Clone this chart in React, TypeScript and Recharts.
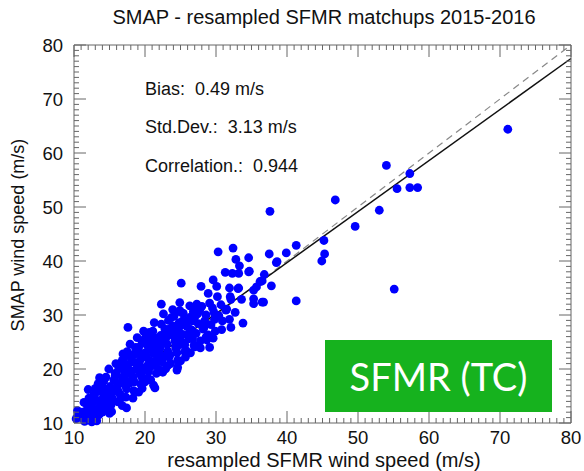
import { ReferenceLine, Scatter, ScatterChart, XAxis, YAxis } from "recharts";

// SFMR (x) vs SMAP (y) wind speed, m/s
const sparsePoints: [number, number][] = [
  [71.1, 64.4], [54.0, 57.7], [57.3, 56.2], [55.5, 53.4], [57.3, 53.6], [58.4, 53.6],
  [46.8, 51.3], [53.0, 49.4], [49.6, 46.4], [45.2, 43.8], [45.3, 41.3], [44.9, 40.0],
  [55.1, 34.8], [37.6, 49.2], [41.3, 42.9], [37.5, 41.3], [39.9, 41.5], [38.6, 39.9],
  [36.8, 37.5], [36.5, 36.3], [37.8, 35.4], [36.7, 32.4], [41.3, 32.6],
];

const midPoints: [number, number][] = [
  [32.4, 42.4], [30.3, 41.7], [34.6, 40.6], [32.8, 40.3], [33.3, 39.1], [31.3, 37.9],
  [32.3, 37.7], [33.2, 37.7], [34.7, 38.1], [29.6, 36.5], [25.1, 35.9], [27.9, 35.3],
  [28.9, 34.0], [30.1, 35.3], [31.9, 35.0], [33.2, 35.0], [35.7, 35.2], [22.3, 32.0],
  [24.9, 32.3], [27.3, 32.0], [29.1, 32.2], [29.5, 31.3], [32.1, 32.9], [33.6, 32.9],
  [35.3, 33.0], [36.5, 32.4], [35.3, 32.1], [24.9, 30.8], [26.3, 31.7], [27.7, 30.8],
  [31.5, 31.1], [32.7, 30.5], [23.7, 29.5], [25.3, 28.9], [26.7, 28.9], [28.4, 28.9],
  [29.8, 29.2], [30.9, 28.9], [31.9, 29.2], [33.8, 28.5], [32.1, 27.7], [22.8, 27.4],
  [24.4, 27.4], [26.3, 27.4], [28.2, 27.4], [22.9, 25.6], [24.8, 25.9], [26.7, 25.6],
  [28.6, 25.9], [29.1, 24.0], [17.6, 27.7], [25.1, 30.5], [27.4, 30.2], [20.6, 26.8],
  [22.2, 26.2], [23.4, 27.4], [24.8, 28.6], [19.6, 24.9], [21.0, 25.2], [18.7, 24.0],
  [17.7, 22.5], [19.4, 22.8], [22.0, 23.4], [24.4, 23.7], [25.8, 23.4], [16.8, 21.6],
  [18.4, 21.3], [20.6, 21.6], [23.4, 22.2], [24.6, 20.3], [22.9, 20.0], [16.3, 20.0],
  [17.7, 19.7], [19.6, 20.0], [21.0, 20.6], [15.8, 18.8], [34.6, 38.0], [36.2, 36.2],
  [35.3, 34.6], [38.5, 39.7], [33.1, 34.9], [32.0, 33.4], [31.4, 30.9], [28.7, 25.4],
  [27.0, 24.1], [25.6, 23.2], [24.5, 19.8], [21.4, 16.5],
];

const densePoints: [number, number][] = [
  [10.5, 12.3], [11.7, 11.5], [11.0, 11.0], [12.9, 10.6], [13.4, 17.3], [13.1, 15.7],
  [14.3, 15.1], [14.8, 13.9], [13.8, 12.8], [15.7, 16.3], [16.7, 17.6], [17.2, 19.4],
  [18.1, 21.3], [18.6, 22.8], [17.4, 12.8], [16.2, 13.9], [19.1, 15.7], [20.0, 17.6],
  [20.5, 20.0], [21.2, 17.0], [15.3, 12.1], [12.7, 13.9], [11.9, 13.3],
  [11.2, 12.0], [11.5, 10.3], [10.8, 11.6], [11.9, 12.6], [12.2, 11.1], [11.4, 13.8], [10.3, 10.8],
  [12.4, 13.2], [12.6, 11.8], [12.1, 14.6], [12.8, 15.2], [12.5, 10.2], [13.2, 12.3],
  [13.3, 14.2], [13.6, 13.0], [13.0, 16.4], [13.8, 15.8], [13.5, 11.5], [13.9, 17.0], [13.2, 10.4],
  [14.1, 14.5], [14.4, 16.2], [14.6, 12.8], [14.2, 17.8], [14.8, 15.3], [14.0, 12.0], [14.5, 18.5],
  [15.1, 16.8], [15.4, 14.6], [15.6, 18.0], [15.2, 13.3], [15.8, 19.2], [15.5, 15.8], [15.0, 11.8],
  [16.2, 17.2], [16.5, 15.3], [16.0, 19.0], [16.8, 18.4], [16.4, 14.1], [16.6, 20.5], [16.1, 16.2],
  [17.1, 18.1], [17.4, 16.3], [17.6, 20.8], [17.0, 21.9], [17.8, 17.4], [17.3, 14.8], [17.7, 19.2], [17.5, 23.2],
  [18.2, 19.6], [18.5, 17.6], [18.8, 21.0], [18.0, 22.6], [18.4, 16.0], [18.7, 23.8], [18.3, 18.5], [18.9, 20.2],
  [19.2, 20.8], [19.5, 18.6], [19.8, 22.2], [19.1, 24.0], [19.4, 17.2], [19.7, 25.3], [19.9, 19.8], [19.3, 21.6],
  [20.2, 22.3], [20.5, 19.5], [20.8, 23.6], [20.1, 25.9], [20.4, 18.3], [20.7, 21.2], [20.9, 26.4], [20.3, 24.4],
  [21.2, 22.9], [21.5, 20.6], [21.8, 24.7], [21.1, 27.0], [21.6, 19.2], [21.9, 22.0], [21.4, 25.8],
  [22.1, 23.9], [22.4, 21.3], [22.7, 25.5], [22.3, 28.3], [22.8, 22.4], [22.5, 19.4], [22.9, 27.0],
  [23.1, 24.6], [23.5, 22.6], [23.8, 26.3], [23.3, 29.0], [23.6, 21.0], [23.9, 28.0],
  [24.2, 25.2], [24.5, 23.0], [24.8, 26.8], [24.1, 29.8], [24.6, 21.6], [24.9, 24.5],
  [25.3, 26.4], [25.6, 24.5], [25.9, 27.9], [25.4, 30.3], [25.7, 22.2],
  [26.2, 25.6], [26.6, 27.2], [26.9, 24.4], [26.4, 29.6], [26.8, 30.6],
  [27.2, 26.6], [27.5, 28.4], [27.8, 25.2], [27.1, 31.2],
  [28.3, 27.7], [28.6, 30.0], [28.9, 26.3],
  [29.3, 28.2], [29.7, 30.5], [29.9, 27.0],
  [30.4, 29.9], [30.7, 31.9], [30.2, 33.4],
  [12.0, 16.2], [13.6, 18.4], [14.9, 20.0], [15.9, 21.0], [16.9, 22.8], [17.9, 24.6],
  [18.9, 25.8], [19.8, 27.0], [21.3, 28.6], [22.6, 30.2], [23.9, 31.0], [20.0, 23.0],
  [21.0, 23.8], [22.0, 24.8], [23.0, 26.0], [24.0, 27.0], [25.0, 28.0], [26.0, 29.0],
  [27.0, 29.6], [28.0, 31.6], [26.1, 26.4], [25.2, 25.0], [24.3, 24.2], [23.2, 23.3],
  [22.2, 22.1], [21.3, 21.4], [20.3, 20.6], [19.3, 19.2], [18.2, 18.1], [17.2, 17.0],
  [16.2, 15.9], [15.2, 14.8], [14.3, 13.6], [13.3, 12.6], [12.3, 11.9], [16.8, 13.2],
  [18.3, 14.6], [19.6, 16.4], [20.8, 18.0], [22.0, 19.9], [23.2, 20.6], [25.0, 21.5],
  [26.4, 23.0], [27.8, 23.9], [29.6, 25.7], [30.8, 27.3],
];

const fitLine = [{ x: 10, y: 11.35 }, { x: 80, y: 77.5 }];
const oneToOne = [{ x: 10, y: 10 }, { x: 80, y: 80 }];
const stats = ["Bias:  0.49 m/s", "Std.Dev.:  3.13 m/s", "Correlation.:  0.944"];

const points = [...densePoints, ...midPoints, ...sparsePoints].map(([x, y]) => ({ x, y }));
const axisTicks: number[] = [];
for (let v = 10; v <= 80; v++) axisTicks.push(v);

const TICK = "#666";
const FONT = "'Liberation Sans', Arial, sans-serif";
const len = (v: number) => (v % 10 === 0 ? 12 : 5);

const BottomTick = ({ x, y, payload }: any) => (
  <g>
    <line x1={x} x2={x} y1={y} y2={y - len(payload.value)} stroke={TICK} />
    {payload.value % 10 === 0 && (
      <text x={x} y={y + 21} textAnchor="middle" fontSize={18.5} fill="#111" fontFamily={FONT}>
        {payload.value}
      </text>
    )}
  </g>
);
const TopTick = ({ x, y, payload }: any) => (
  <line x1={x} x2={x} y1={y} y2={y + len(payload.value)} stroke={TICK} />
);
const LeftTick = ({ x, y, payload }: any) => (
  <g>
    <line x1={x} x2={x + len(payload.value)} y1={y} y2={y} stroke={TICK} />
    {payload.value % 10 === 0 && (
      <text x={x - 11} y={y + 7} textAnchor="end" fontSize={18.5} fill="#111" fontFamily={FONT}>
        {payload.value}
      </text>
    )}
  </g>
);
const RightTick = ({ x, y, payload }: any) => (
  <line x1={x} x2={x - len(payload.value)} y1={y} y2={y} stroke={TICK} />
);

const Dot = ({ cx, cy }: any) => <circle cx={cx} cy={cy} r={4.4} fill="#0000ff" />;

export default function App() {
  return (
    <div style={{ position: "absolute", left: 0, top: 0, width: 584, height: 471, background: "#fff", fontFamily: FONT }}>
      <ScatterChart width={584} height={471} margin={{ top: 44, right: 12, bottom: 18, left: 44 }}>
        <XAxis xAxisId="b" type="number" dataKey="x" domain={[10, 80]} ticks={axisTicks} interval={0}
          height={30} tickSize={0} tickMargin={0} tickLine={false} axisLine={{ stroke: TICK }} tick={<BottomTick />} />
        <XAxis xAxisId="t" orientation="top" type="number" dataKey="x" domain={[10, 80]} ticks={axisTicks} interval={0}
          height={1} tickSize={0} tickMargin={0} tickLine={false} axisLine={{ stroke: TICK }} tick={<TopTick />} />
        <YAxis yAxisId="l" type="number" dataKey="y" domain={[10, 80]} ticks={axisTicks} interval={0}
          width={30} tickSize={0} tickMargin={0} tickLine={false} axisLine={{ stroke: TICK }} tick={<LeftTick />} />
        <YAxis yAxisId="r" orientation="right" type="number" dataKey="y" domain={[10, 80]} ticks={axisTicks} interval={0}
          width={1} tickSize={0} tickMargin={0} tickLine={false} axisLine={{ stroke: TICK }} tick={<RightTick />} />
        <Scatter data={points} xAxisId="b" yAxisId="l" shape={<Dot />} isAnimationActive={false} />
        <Scatter data={oneToOne} xAxisId="t" yAxisId="r" shape={() => <g />} isAnimationActive={false} />
        <ReferenceLine xAxisId="b" yAxisId="l" segment={oneToOne} stroke="#888" strokeDasharray="7 5" strokeWidth={1.2} />
        <ReferenceLine xAxisId="b" yAxisId="l" segment={fitLine} stroke="#111" strokeWidth={1.5} />
      </ScatterChart>

      <div style={{ position: "absolute", left: 0, width: 648, top: 6, textAlign: "center", fontSize: 20, color: "#111" }}>
        SMAP - resampled SFMR matchups 2015-2016
      </div>
      {stats.map((s, i) => (
        <div key={s} style={{ position: "absolute", left: 145, top: 79 + i * 38.3, fontSize: 18, whiteSpace: "pre", color: "#111" }}>
          {s}
        </div>
      ))}
      <div style={{ position: "absolute", left: 74, width: 500, top: 449, textAlign: "center", fontSize: 20, color: "#111" }}>
        resampled SFMR wind speed (m/s)
      </div>
      <div style={{ position: "absolute", left: 18, top: 235, width: 0, height: 0 }}>
        <div style={{ position: "absolute", transform: "translate(-50%, -50%) rotate(-90deg)", whiteSpace: "nowrap", fontSize: 18, color: "#111" }}>
          SMAP wind speed (m/s)
        </div>
      </div>
      <div style={{ position: "absolute", left: 325, top: 340, width: 227, height: 72, background: "#16b21e", color: "#fff",
        display: "flex", alignItems: "center", justifyContent: "center", fontFamily: "Lato, sans-serif", fontSize: 38 }}>
        SFMR (TC)
      </div>
    </div>
  );
}
